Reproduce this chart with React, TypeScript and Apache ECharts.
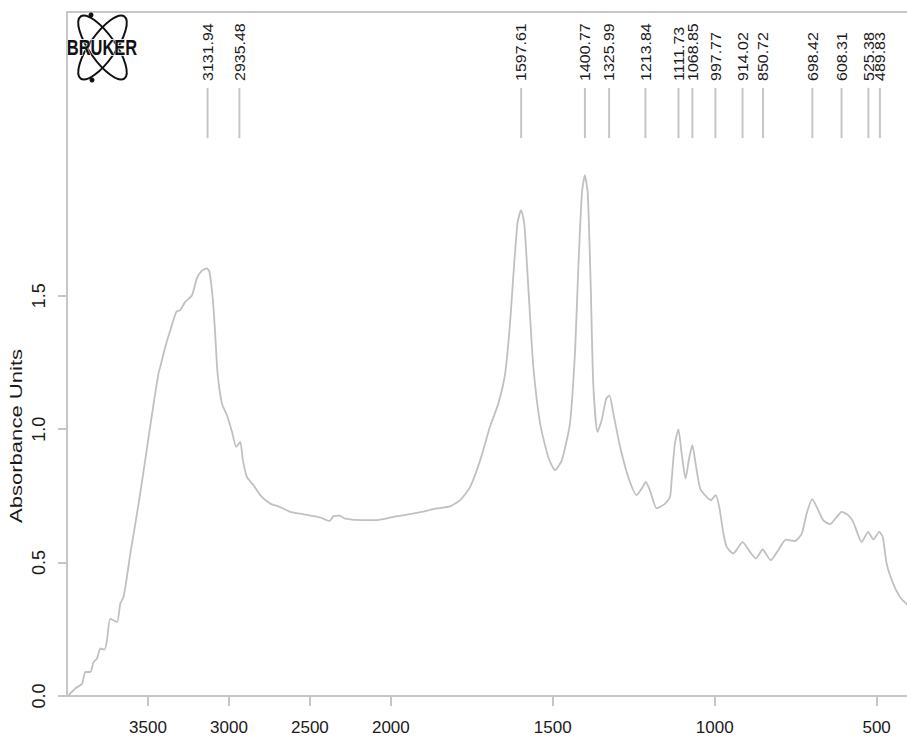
import React, { useEffect, useRef } from "react";
import * as echarts from "echarts";

// Spectrum (wavenumber cm-1, absorbance)
const spectrumWavenumbers = [
  3990, 3949, 3907, 3887, 3856, 3836, 3815, 3794, 3768, 3753,
  3733, 3691, 3671, 3651, 3630, 3609, 3578, 3548, 3517, 3496,
  3465, 3435, 3424, 3393, 3362, 3325, 3301, 3270, 3228, 3198,
  3167, 3136, 3120, 3099, 3085, 3070, 3043, 3012, 2981, 2955,
  2930, 2914, 2889, 2848, 2807, 2745, 2694, 2622, 2540, 2436,
  2379, 2354, 2317, 2282, 2169, 2086, 1981, 1920, 1858, 1817,
  1786, 1755, 1724, 1694, 1668, 1647, 1632, 1622, 1609, 1598,
  1588, 1575, 1560, 1539, 1514, 1493, 1472, 1447, 1431, 1421,
  1410, 1401, 1392, 1383, 1375, 1362, 1349, 1335, 1325, 1313,
  1292, 1267, 1241, 1225, 1213, 1200, 1179, 1153, 1138, 1133,
  1123, 1112, 1102, 1090, 1079, 1069, 1059, 1045, 1030, 1012,
  997, 986, 973, 963, 943, 914, 891, 873, 852, 827,
  804, 780, 752, 731, 716, 699, 680, 665, 644, 623,
  608, 588, 572, 546, 526, 510, 492, 481, 469, 449,
  428, 407, 400,
];
const spectrumAbsorbance = [
  0.003, 0.028, 0.046, 0.09, 0.09, 0.127, 0.14, 0.178, 0.174, 0.209,
  0.29, 0.277, 0.346, 0.371, 0.446, 0.534, 0.646, 0.759, 0.884, 0.971,
  1.096, 1.209, 1.234, 1.309, 1.371, 1.44, 1.446, 1.477, 1.502, 1.565,
  1.594, 1.603, 1.59, 1.484, 1.359, 1.209, 1.096, 1.052, 0.99, 0.934,
  0.952, 0.884, 0.821, 0.79, 0.753, 0.721, 0.711, 0.69, 0.681, 0.669,
  0.656, 0.674, 0.676, 0.665, 0.659, 0.659, 0.674, 0.686, 0.703, 0.711,
  0.734, 0.784, 0.884, 1.009, 1.096, 1.209, 1.396, 1.571, 1.771, 1.821,
  1.771, 1.521, 1.234, 1.021, 0.896, 0.846, 0.884, 1.021, 1.296, 1.609,
  1.884, 1.952, 1.884, 1.546, 1.171, 0.99, 1.034, 1.115, 1.127, 1.059,
  0.934, 0.821, 0.753, 0.778, 0.802, 0.771, 0.703, 0.721, 0.746, 0.809,
  0.946, 0.999, 0.909, 0.815, 0.89, 0.94, 0.871, 0.778, 0.753, 0.734,
  0.753, 0.709, 0.609, 0.559, 0.534, 0.577, 0.54, 0.515, 0.549, 0.509,
  0.546, 0.586, 0.581, 0.609, 0.684, 0.738, 0.696, 0.659, 0.644, 0.671,
  0.69, 0.678, 0.652, 0.577, 0.615, 0.586, 0.615, 0.596, 0.496, 0.421,
  0.371, 0.344, 0.335,
];

// Peak picks
const peakWavenumbers = [
  3131.94, 2935.48, 1597.61, 1400.77, 1325.99, 1213.84, 1111.73, 1068.85,
  997.77, 914.02, 850.72, 698.42, 608.31, 525.38, 489.83,
];
const peakLabels = [
  "3131.94", "2935.48", "1597.61", "1400.77", "1325.99", "1213.84", "1111.73",
  "1068.85", "997.77", "914.02", "850.72", "698.42", "608.31", "525.38", "489.83",
];

// Axis ticks
const xTickLabels = [3500, 3000, 2500, 2000, 1500, 1000, 500];
const yTickValues = [0, 0.5, 1.0, 1.5];

const yAxisTitle = "Absorbance Units";
const logoText = "BRUKER";

// Bruker-style axis: region above 2000 cm-1 compressed by factor 2
const BREAK = 2000;
const toU = (w: number) => (w <= BREAK ? w : BREAK + (w - BREAK) / 2);
const fromU = (u: number) => (u <= BREAK ? u : BREAK + (u - BREAK) * 2);

const FONT = "'Liberation Sans', Arial, Helvetica, sans-serif";
const GRAY = "#c6c6c6";

export default function App() {
  const ref = useRef<HTMLDivElement>(null);

  useEffect(() => {
    if (!ref.current) return;
    const chart = echarts.init(ref.current, undefined, { renderer: "svg" });

    const lineData = spectrumWavenumbers.map((w, i) => [toU(w), spectrumAbsorbance[i]]);
    const peakData = peakWavenumbers.map((w) => [toU(w), 2.279, 2.091]);
    const xTickU = xTickLabels.map(toU);

    const option: any = {
      animation: false,
      backgroundColor: "#ffffff",
      grid: {
        left: 67,
        right: 3,
        top: 12,
        bottom: 46,
        show: true,
        borderColor: GRAY,
        borderWidth: 2,
        backgroundColor: "transparent",
      },
      xAxis: {
        type: "value",
        inverse: true,
        min: 400,
        max: 3000,
        axisLine: { show: true, lineStyle: { color: GRAY, width: 2 } },
        axisTick: {
          show: true,
          length: 10,
          customValues: xTickU,
          lineStyle: { color: GRAY, width: 2 },
        },
        axisLabel: {
          customValues: xTickU,
          formatter: (v: number) => String(Math.round(fromU(v))),
          color: "#1a1a1a",
          fontSize: 17,
          fontFamily: FONT,
          margin: 23,
        },
        splitLine: { show: false },
      },
      yAxis: {
        type: "value",
        min: 0,
        max: 2.5636,
        axisLine: { show: true, lineStyle: { color: GRAY, width: 2 } },
        axisTick: {
          show: true,
          length: 9,
          customValues: yTickValues,
          lineStyle: { color: GRAY, width: 2 },
        },
        axisLabel: {
          customValues: yTickValues,
          formatter: (v: number) => v.toFixed(1),
          rotate: 90,
          color: "#1a1a1a",
          fontSize: 18,
          fontFamily: FONT,
          margin: 19,
        },
        splitLine: { show: false },
      },
      graphic: [
        {
          type: "text",
          x: 17,
          y: 436,
          rotation: Math.PI / 2,
          scaleX: 1.38,
          style: {
            text: yAxisTitle,
            fontSize: 16,
            fontFamily: FONT,
            fill: "#1a1a1a",
            align: "center",
            verticalAlign: "middle",
          },
        },
        {
          type: "group",
          children: [
            {
              type: "ellipse",
              x: 102.5,
              y: 47.5,
              rotation: 0.61,
              shape: { cx: 0, cy: 0, rx: 13, ry: 38 },
              style: { fill: "none", stroke: "#111", lineWidth: 2 },
            },
            {
              type: "ellipse",
              x: 102.5,
              y: 47.5,
              rotation: -0.61,
              shape: { cx: 0, cy: 0, rx: 13, ry: 38 },
              style: { fill: "none", stroke: "#111", lineWidth: 2 },
            },
            { type: "circle", shape: { cx: 91, cy: 15, r: 2.5 }, style: { fill: "#111" } },
            { type: "circle", shape: { cx: 92, cy: 80, r: 2.5 }, style: { fill: "#111" } },
            {
              type: "text",
              x: 102,
              y: 48,
              scaleY: 1.3,
              style: {
                text: logoText,
                fontSize: 16.5,
                fontWeight: "bold",
                fontFamily: FONT,
                fill: "#111",
                align: "center",
                verticalAlign: "middle",
                stroke: "#ffffff",
                lineWidth: 1,
              },
            },
          ],
        },
      ],
      series: [
        {
          type: "line",
          data: lineData,
          showSymbol: false,
          symbol: "none",
          smooth: 0.2,
          lineStyle: { color: "#c0c0c0", width: 1.8 },
          silent: true,
        },
        {
          type: "custom",
          data: peakData,
          encode: { x: 0, y: 1 },
          clip: false,
          silent: true,
          renderItem: (params: any, api: any) => {
            const top = api.coord([api.value(0), api.value(1)]);
            const bot = api.coord([api.value(0), api.value(2)]);
            return {
              type: "group",
              children: [
                {
                  type: "line",
                  shape: { x1: top[0], y1: top[1], x2: bot[0], y2: bot[1] },
                  style: { stroke: GRAY, lineWidth: 2 },
                },
                {
                  type: "text",
                  x: top[0],
                  y: top[1] - 7,
                  rotation: Math.PI / 2,
                  scaleX: 1.1,
                  style: {
                    text: peakLabels[params.dataIndex],
                    fontSize: 14.5,
                    fontFamily: FONT,
                    fill: "#1a1a1a",
                    align: "left",
                    verticalAlign: "middle",
                  },
                },
              ],
            };
          },
        },
      ],
    };

    chart.setOption(option);
    return () => chart.dispose();
  }, []);

  return (
    <div
      style={{
        position: "fixed",
        left: 0,
        top: 0,
        width: 907,
        height: 742,
        overflow: "hidden",
        background: "#fff",
      }}
    >
      <div ref={ref} style={{ width: 912, height: 742 }} />
    </div>
  );
}
